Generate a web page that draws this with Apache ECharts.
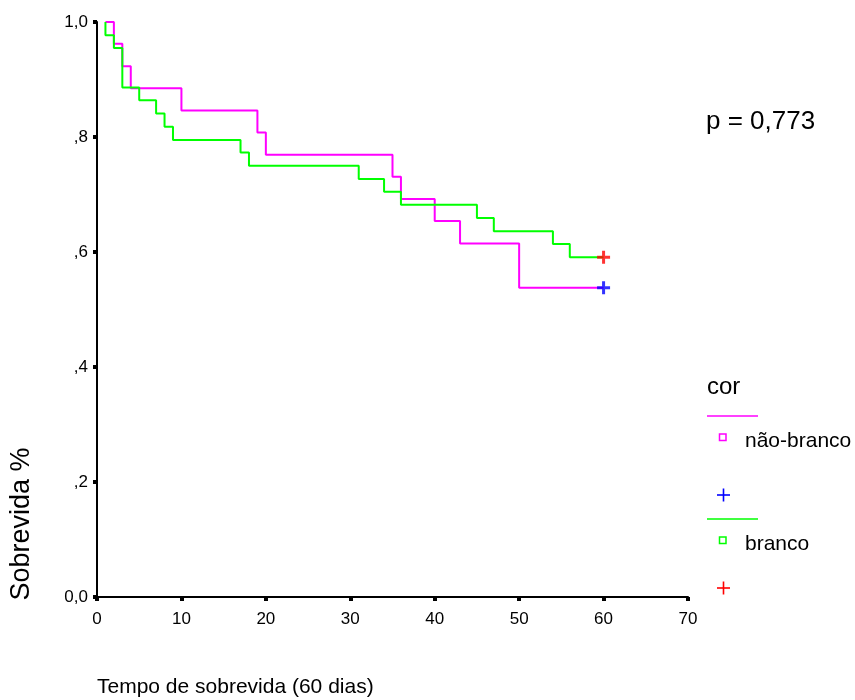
<!DOCTYPE html>
<html>
<head>
<meta charset="utf-8">
<script src="https://cdn.jsdelivr.net/npm/echarts@6/dist/echarts.min.js"></script>
<style>html,body{margin:0;padding:0;background:#fff;}#c{width:855px;height:700px;}</style>
</head>
<body>
<div id="c"></div>
<script>
// Kaplan-Meier step data
const naoBrancoTimes = [1, 2, 3, 4, 10, 19, 20, 35, 36, 40, 43, 50, 60];
const naoBrancoSurv  = [1.0, 0.962, 0.923, 0.885, 0.846, 0.808, 0.769, 0.731, 0.692, 0.654, 0.615, 0.538, 0.538];
const brancoTimes = [1, 1, 2, 3, 5, 7, 8, 9, 17, 18, 31, 34, 36, 45, 47, 54, 56, 60];
const brancoSurv  = [1.0, 0.977, 0.955, 0.886, 0.864, 0.841, 0.818, 0.795, 0.773, 0.750, 0.727, 0.705, 0.682, 0.659, 0.636, 0.614, 0.591, 0.591];
// censored observations
const naoBrancoCensorTimes = [60];
const naoBrancoCensorSurv  = [0.538];
const brancoCensorTimes = [60];
const brancoCensorSurv  = [0.591];
// axis tick labels
const xTicks = [0, 10, 20, 30, 40, 50, 60, 70];
const yTicks = [0, 0.2, 0.4, 0.6, 0.8, 1.0];
const yTickLabels = ['0,0', ',2', ',4', ',6', ',8', '1,0'];

const FONT = '"Liberation Sans", Arial, sans-serif';
const zip = (a, b) => a.map((v, i) => [v, b[i]]);
const plusPath = 'path://M5,0 h3 v5 h5 v3 h-5 v5 h-3 v-5 h-5 v-3 h5 z';

const chart = echarts.init(document.getElementById('c'), null, {renderer: 'canvas'});
chart.setOption({
  animation: false,
  backgroundColor: '#ffffff',
  grid: {left: 97, right: 167, top: 22, bottom: 103, containLabel: false},
  xAxis: {
    type: 'value', min: 0, max: 70, interval: 10,
    axisLine: {show: true, lineStyle: {color: '#000', width: 2}},
    axisTick: {show: true, length: 4, lineStyle: {color: '#000', width: 4}},
    axisLabel: {color: '#000', fontSize: 17, fontFamily: FONT, margin: 14,
      formatter: v => xTicks.includes(v) ? String(v) : ''},
    splitLine: {show: false}
  },
  yAxis: {
    type: 'value', min: 0, max: 1, interval: 0.2,
    axisLine: {show: true, lineStyle: {color: '#000', width: 2}},
    axisTick: {show: true, length: 4, lineStyle: {color: '#000', width: 4}},
    axisLabel: {color: '#000', fontSize: 17, fontFamily: FONT, margin: 9,
      formatter: v => {
        const i = yTicks.findIndex(t => Math.abs(t - v) < 1e-6);
        return i >= 0 ? yTickLabels[i] : '';
      }},
    splitLine: {show: false}
  },
  series: [
    {
      name: 'não-branco', type: 'line', step: 'end', showSymbol: false, symbol: 'none',
      data: zip(naoBrancoTimes, naoBrancoSurv),
      lineStyle: {color: '#ff00ff', width: 2}, z: 2
    },
    {
      name: 'branco', type: 'line', step: 'end', showSymbol: false, symbol: 'none',
      data: zip(brancoTimes, brancoSurv),
      lineStyle: {color: '#00ff00', width: 2}, z: 3
    },
    {
      name: 'não-branco censurado', type: 'scatter', symbol: plusPath, symbolSize: 13,
      data: zip(naoBrancoCensorTimes, naoBrancoCensorSurv),
      itemStyle: {color: '#0000ff'}, z: 5
    },
    {
      name: 'branco censurado', type: 'scatter', symbol: plusPath, symbolSize: 13,
      data: zip(brancoCensorTimes, brancoCensorSurv),
      itemStyle: {color: '#ff0000'}, z: 5
    }
  ],
  graphic: [
    {type: 'text', x: 97, y: 687, style: {text: 'Tempo de sobrevida (60 dias)', font: '21px ' + FONT, fill: '#000', textVerticalAlign: 'middle'}},
    {type: 'text', x: 22, y: 524, rotation: Math.PI / 2,
      style: {text: 'Sobrevida %', font: '27px ' + FONT, fill: '#000', textAlign: 'center', textVerticalAlign: 'middle'}},
    {type: 'text', x: 706, y: 122, style: {text: 'p = 0,773', font: '26px ' + FONT, fill: '#000', textVerticalAlign: 'middle'}},
    {type: 'text', x: 707, y: 387, style: {text: 'cor', font: '24px ' + FONT, fill: '#000', textVerticalAlign: 'middle'}},
    {type: 'line', shape: {x1: 707, y1: 416, x2: 758, y2: 416}, style: {stroke: '#ff00ff', lineWidth: 1.5}},
    {type: 'rect', shape: {x: 719.5, y: 434, width: 6.5, height: 6.5}, style: {fill: 'none', stroke: '#ff00ff', lineWidth: 1.5}},
    {type: 'text', x: 745, y: 441, style: {text: 'não-branco', font: '21px ' + FONT, fill: '#000', textVerticalAlign: 'middle'}},
    {type: 'line', shape: {x1: 717, y1: 495, x2: 730, y2: 495}, style: {stroke: '#0000ff', lineWidth: 1.6}},
    {type: 'line', shape: {x1: 723.5, y1: 488.5, x2: 723.5, y2: 501.5}, style: {stroke: '#0000ff', lineWidth: 1.6}},
    {type: 'line', shape: {x1: 707, y1: 519, x2: 758, y2: 519}, style: {stroke: '#00ff00', lineWidth: 1.5}},
    {type: 'rect', shape: {x: 719.5, y: 537, width: 6.5, height: 6.5}, style: {fill: 'none', stroke: '#00ff00', lineWidth: 1.5}},
    {type: 'text', x: 745, y: 544, style: {text: 'branco', font: '21px ' + FONT, fill: '#000', textVerticalAlign: 'middle'}},
    {type: 'line', shape: {x1: 717, y1: 588, x2: 730, y2: 588}, style: {stroke: '#ff0000', lineWidth: 1.6}},
    {type: 'line', shape: {x1: 723.5, y1: 581.5, x2: 723.5, y2: 594.5}, style: {stroke: '#ff0000', lineWidth: 1.6}}
  ]
});
</script>
</body>
</html>
